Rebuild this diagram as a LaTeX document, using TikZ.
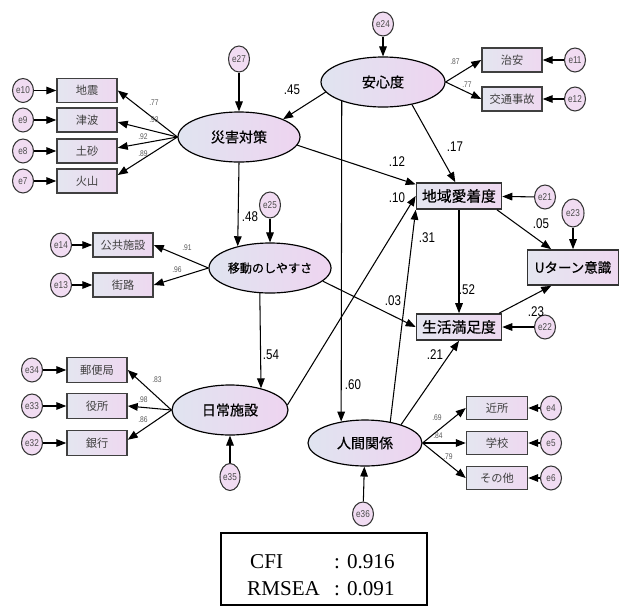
\documentclass[tikz,border=0pt]{standalone}
\usepackage{fontspec}
\setmainfont{Liberation Sans}
\newfontfamily\cjk{Noto Sans CJK JP}
\newfontfamily\cjkm[FakeBold=0.6]{Noto Sans CJK JP}
\newfontfamily\narrow[FakeStretch=0.82]{Liberation Sans}
\newfontfamily\serif{Liberation Serif}
\usetikzlibrary{shapes.geometric,arrows.meta}
\definecolor{latL}{RGB}{224,228,240}
\definecolor{latR}{RGB}{238,212,240}
\definecolor{boxL}{RGB}{228,230,240}
\definecolor{boxR}{RGB}{238,216,240}
\definecolor{errF}{RGB}{241,220,242}
\begin{document}
\begin{tikzpicture}[x=0.03cm,y=-0.03cm,
  sz/.style 2 args={minimum width=#1*0.03cm, minimum height=#2*0.03cm},
  latent/.style={ellipse, draw=black, line width=1pt, left color=latL, right color=latR,
    inner sep=0pt, font=\cjkm\fontsize{12}{14}\selectfont},
  outbox/.style={rectangle, draw=black!80, line width=1.4pt, left color=boxL, right color=boxR,
    inner sep=0pt, font=\cjkm\fontsize{12.6}{14}\selectfont},
  obs/.style={rectangle, draw=black!75, line width=1.3pt, left color=boxL, right color=boxR,
    inner sep=0pt, sz={60}{24}, text=black!75, font=\cjk\fontsize{9.6}{11}\selectfont},
  errc/.style={ellipse, draw=black!80, line width=0.9pt, fill=errF, inner sep=0pt,
    sz={21}{24}, text=black!70, font=\narrow\fontsize{8.5}{9}\selectfont},
  arr/.style={-{Triangle[length=8.5pt,width=6.5pt]}, line width=0.9pt},
  coef/.style={inner sep=0pt, font=\narrow\fontsize{12}{13}\selectfont},
  ld/.style={inner sep=0pt, text=black!65, font=\narrow\fontsize{7}{8}\selectfont},
  stat/.style={inner sep=0pt, anchor=base west, font=\serif\fontsize{18}{20}\selectfont}
]
\useasboundingbox (0,0) rectangle (623,609);

% latent factors
\node[latent, sz={124}{50}] (ansin) at (383,82) {安心度};
\node[latent, sz={122}{50}] (saigai) at (239,137) {災害対策};
\node[latent, sz={122}{50}, font=\cjkm\fontsize{10.3}{12}\selectfont] (ido) at (270,268) {移動のしやすさ};
\node[latent, sz={116}{50}] (nichijo) at (230,410) {日常施設};
\node[latent, sz={114}{46}] (ningen) at (365,443) {人間関係};

% outcome variables
\node[outbox, sz={85}{26}] (aichaku) at (459,196) {地域愛着度};
\node[outbox, sz={85}{26}] (seikatsu) at (459,327) {生活満足度};
\node[outbox, sz={91}{35}, font=\cjkm\fontsize{11.5}{13}\selectfont] (uturn) at (573,267.5) {Uターン意識};

% indicators
\node[obs] (jishin) at (87,90.5) {地震};
\node[obs] (tsunami) at (87,120) {津波};
\node[obs] (dosha) at (87,151) {土砂};
\node[obs] (kazan) at (87,181) {火山};
\node[obs] (chian) at (512,60) {治安};
\node[obs] (kotsu) at (512,99) {交通事故};
\node[obs] (kokyo) at (123,245) {公共施設};
\node[obs] (gairo) at (123,285) {街路};
\node[obs, sz={60}{25}] (yubin) at (97,370) {郵便局};
\node[obs, sz={60}{25}] (yakusho) at (97,406) {役所};
\node[obs, sz={60}{25}] (ginko) at (97,443) {銀行};
\node[obs, sz={61}{23}] (kinjo) at (497,408) {近所};
\node[obs, sz={61}{23}] (gakko) at (497,443) {学校};
\node[obs, sz={61}{23}] (sonota) at (497,478) {その他};

% error terms
\node[errc] (e24) at (383,24) {e24};
\node[errc, sz={21}{26}] (e27) at (239,59) {e27};
\node[errc, sz={21}{26}] (e25) at (270,205) {e25};
\node[errc, sz={20}{27}] (e35) at (230,477) {e35};
\node[errc] (e36) at (363,514) {e36};
\node[errc] (e21) at (545,197) {e21};
\node[errc] (e22) at (545,327) {e22};
\node[errc, sz={22}{28}] (e23) at (573,213) {e23};
\node[errc] (e10) at (23,90.5) {e10};
\node[errc] (e9) at (23,120) {e9};
\node[errc] (e8) at (23,151) {e8};
\node[errc] (e7) at (23,181) {e7};
\node[errc] (e11) at (575,60) {e11};
\node[errc] (e12) at (575,99) {e12};
\node[errc] (e14) at (61,245) {e14};
\node[errc] (e13) at (61,285) {e13};
\node[errc] (e34) at (32,370) {e34};
\node[errc] (e33) at (32,406) {e33};
\node[errc] (e32) at (32,443) {e32};
\node[errc] (e4) at (551,408) {e4};
\node[errc] (e5) at (551,443) {e5};
\node[errc] (e6) at (551,478) {e6};

% error arrows
\foreach \e/\v in {e24/ansin, e27/saigai, e25/ido, e35/nichijo, e36/ningen,
  e21/aichaku, e22/seikatsu, e23/uturn, e10/jishin, e9/tsunami, e8/dosha, e7/kazan,
  e11/chian, e12/kotsu, e14/kokyo, e13/gairo, e34/yubin, e33/yakusho, e32/ginko,
  e4/kinjo, e5/gakko, e6/sonota}
  \draw[arr] (\e) -- (\v);

% measurement paths
\draw[arr] (saigai.west) -- (jishin.east);
\draw[arr] (saigai.west) -- (tsunami.-4);
\draw[arr] (saigai.west) -- (dosha.6);
\draw[arr] (saigai.west) -- (kazan.11);
\draw[arr] (ansin.east) -- (chian.west);
\draw[arr] (ansin.east) -- (kotsu.west);
\draw[arr] (ido.west) -- (kokyo.east);
\draw[arr] (ido.west) -- (gairo.east);
\draw[arr] (nichijo.west) -- (yubin.east);
\draw[arr] (nichijo.west) -- (yakusho.east);
\draw[arr] (nichijo.west) -- (ginko.6);
\draw[arr] (ningen.east) -- (kinjo.west);
\draw[arr] (ningen.east) -- (gakko.west);
\draw[arr] (ningen.east) -- (sonota.west);

% structural paths
\draw[arr] (ansin.190) -- (saigai.22);
\draw[arr] (ansin.-38) -- (aichaku.105);
\draw[arr] (ansin.205) -- (ningen.138);
\draw[arr] (saigai.-8) -- (aichaku.165);
\draw[arr] (saigai.south) -- (ido.146);
\draw[arr] (ido.-112) -- (nichijo.35);
\draw[arr] (ido.-14) -- (seikatsu.west);
\draw[arr] (nichijo.5) -- (aichaku.west);
\draw[arr] (ningen.40) -- (aichaku.south west);
\draw[arr] (ningen.27) -- (seikatsu.south);
\draw[arr] (aichaku) -- (seikatsu);
\draw[arr] (aichaku.-20) -- (uturn.140);
\draw[arr] (seikatsu.19) -- (uturn.-140);

% path coefficients
\node[coef] (c45) at (292,90) {.45};
\node[coef] (c12) at (397,162) {.12};
\node[coef] (c17) at (455,147) {.17};
\node[coef] (c48) at (250,217) {.48};
\node[coef] (c10) at (397,198) {.10};
\node[coef] (c31) at (427,238) {.31};
\node[coef] (c05) at (541,224) {.05};
\node[coef] (c03) at (393,301) {.03};
\node[coef] (c52) at (467,290) {.52};
\node[coef] (c54) at (271,355) {.54};
\node[coef] (c23) at (536,312) {.23};
\node[coef] (c21) at (435,355) {.21};
\node[coef] (c60) at (353,385) {.60};

% factor loadings
\node[ld] (l1) at (154,103) {.77};
\node[ld] (l2) at (154,120) {.93};
\node[ld] (l3) at (143,137) {.92};
\node[ld] (l4) at (143,154) {.89};
\node[ld] (l5) at (455,62) {.87};
\node[ld] (l6) at (467,85) {.77};
\node[ld] (l7) at (187,248) {.91};
\node[ld] (l8) at (177,270) {.96};
\node[ld] (l9) at (157,380) {.83};
\node[ld] (l10) at (143,400) {.98};
\node[ld] (l11) at (143,420) {.86};
\node[ld] (l12) at (437,418) {.69};
\node[ld] (l13) at (438,436) {.84};
\node[ld] (l14) at (448,457) {.79};

% fit indices
\node[draw=black, line width=1.3pt, sz={206}{72}, inner sep=0pt] (fitbox) at (324,569) {};
\node[stat] (cfi) at (250,568) {CFI};
\node[stat] (cfiv) at (334,568) {: 0.916};
\node[stat] (rmsea) at (247,595) {RMSEA};
\node[stat] (rmseav) at (334,595) {: 0.091};
\end{tikzpicture}
\end{document}
